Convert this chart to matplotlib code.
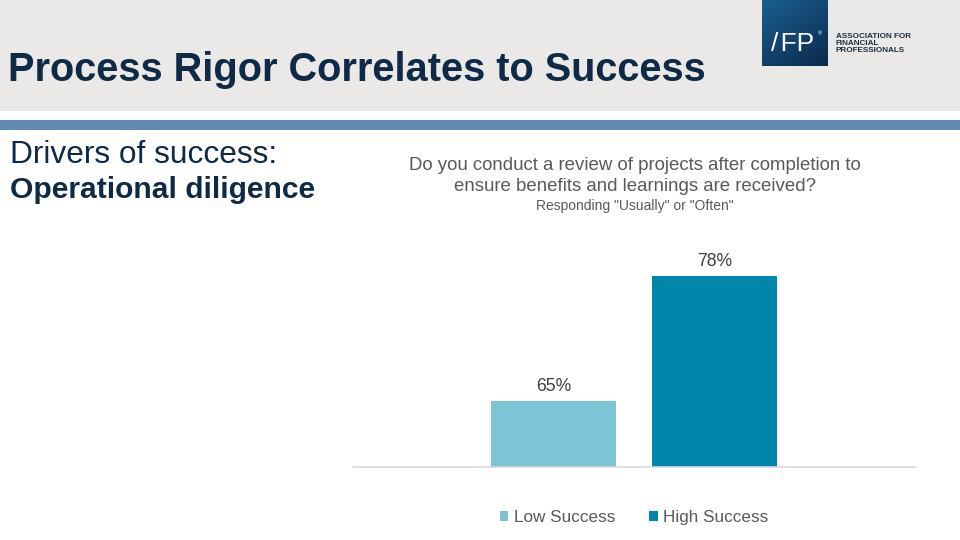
import matplotlib
matplotlib.use("Agg")
import matplotlib.pyplot as plt
import numpy as np
from matplotlib.patches import Rectangle
from matplotlib.colors import LinearSegmentedColormap

plt.rcParams['font.family'] = ['Liberation Sans', 'DejaVu Sans']

# Data
series = ["Low Success", "High Success"]
values = [65, 78]
labels = ["65%", "78%"]
colors = ["#7DC4D4", "#0085AB"]

title = "Process Rigor Correlates to Success"
question = "Do you conduct a review of projects after completion to\nensure benefits and learnings are received?"
subtitle = 'Responding "Usually" or "Often"'

W, H = 960, 540
fig = plt.figure(figsize=(9.6, 5.4), dpi=100)
fig.patch.set_facecolor("white")

def fx(px):
    return px / W

def fy(py):
    return 1 - py / H

# header band
fig.patches.append(Rectangle((0, fy(111)), 1, 111 / H, transform=fig.transFigure,
                             facecolor="#EAE9E7", edgecolor="none", zorder=0))
# blue stripe
fig.patches.append(Rectangle((0, fy(130)), 1, 10 / H, transform=fig.transFigure,
                             facecolor="#5F8AB2", edgecolor="none", zorder=0))

# logo
lax = fig.add_axes([fx(762), fy(66), fx(66), 66 / H])
lax.set_zorder(5)
grad = np.linspace(0, 1, 100)
gimg = np.outer(np.linspace(0, 1, 100), np.ones(100)) * 0.6 + np.outer(np.ones(100), grad) * 0.4
cmap = LinearSegmentedColormap.from_list("afp", ["#1A5F90", "#0B2A4C"])
lax.imshow(gimg, cmap=cmap, aspect="auto", extent=[0, 1, 0, 1], origin="upper")
lax.set_axis_off()
lax.text(0.47, 0.34, "/\u200aFP", color="white", fontsize=19, ha="center", va="center",
         transform=lax.transAxes)
lax.text(0.88, 0.48, "®", color="white", fontsize=4, ha="center", va="center",
         transform=lax.transAxes)
fig.text(fx(836), fy(43.5), "ASSOCIATION FOR\nFINANCIAL\nPROFESSIONALS", fontsize=5.9,
         fontweight="bold", color="#1E2D3E", ha="left", va="center", linespacing=1.0,
         zorder=6)

# title
fig.text(fx(8), fy(70), title, fontsize=28.6, fontweight="bold", color="#0E2A47",
         ha="left", va="center")

# left text
fig.text(fx(10), fy(155), "Drivers of success:", fontsize=22.8, color="#0E2A47",
         ha="left", va="center")
fig.text(fx(10), fy(190), "Operational diligence", fontsize=21.6, fontweight="bold",
         color="#0E2A47", ha="left", va="center")

# question
fig.text(fx(635), fy(176), question, fontsize=13.4, color="#595959", ha="center",
         va="center", linespacing=1.33)
fig.text(fx(635), fy(206), subtitle, fontsize=10.0, color="#595959", ha="center",
         va="center")

# chart axes
ax_left, ax_right = 353, 915
ax_bottom, ax_top = 467, 250
ax = fig.add_axes([fx(ax_left), fy(ax_bottom), (ax_right - ax_left) / W,
                   (ax_bottom - ax_top) / H])
ppu = 125 / 13.0
ymin = 65 - 66 / ppu
ymax = ymin + (ax_bottom - ax_top) / ppu
ax.set_ylim(ymin, ymax)
ax.set_xlim(-0.5, 0.5)

offsets = [-0.1425, 0.1440]
bw = 0.2224
for off, v, c, s, lab in zip(offsets, values, colors, series, labels):
    ax.bar(off, v - ymin, bottom=ymin, width=bw, color=c, label=s)
    ax.text(off, v + 0.6, lab, ha="center", va="bottom", fontsize=12.7, color="#404040")

for sp in ["top", "right", "left"]:
    ax.spines[sp].set_visible(False)
ax.spines["bottom"].set_color("#D9D9D9")
ax.spines["bottom"].set_linewidth(1.2)
ax.set_xticks([])
ax.set_yticks([])
ax.patch.set_alpha(0)

leg = ax.legend(loc="center", bbox_to_anchor=(0.5, -0.232), ncol=2, frameon=False,
                handlelength=0.5, handleheight=0.5, handletextpad=0.3,
                columnspacing=2.0, fontsize=12.3)
for t in leg.get_texts():
    t.set_color("#595959")

fig.savefig("out.png", dpi=100)
